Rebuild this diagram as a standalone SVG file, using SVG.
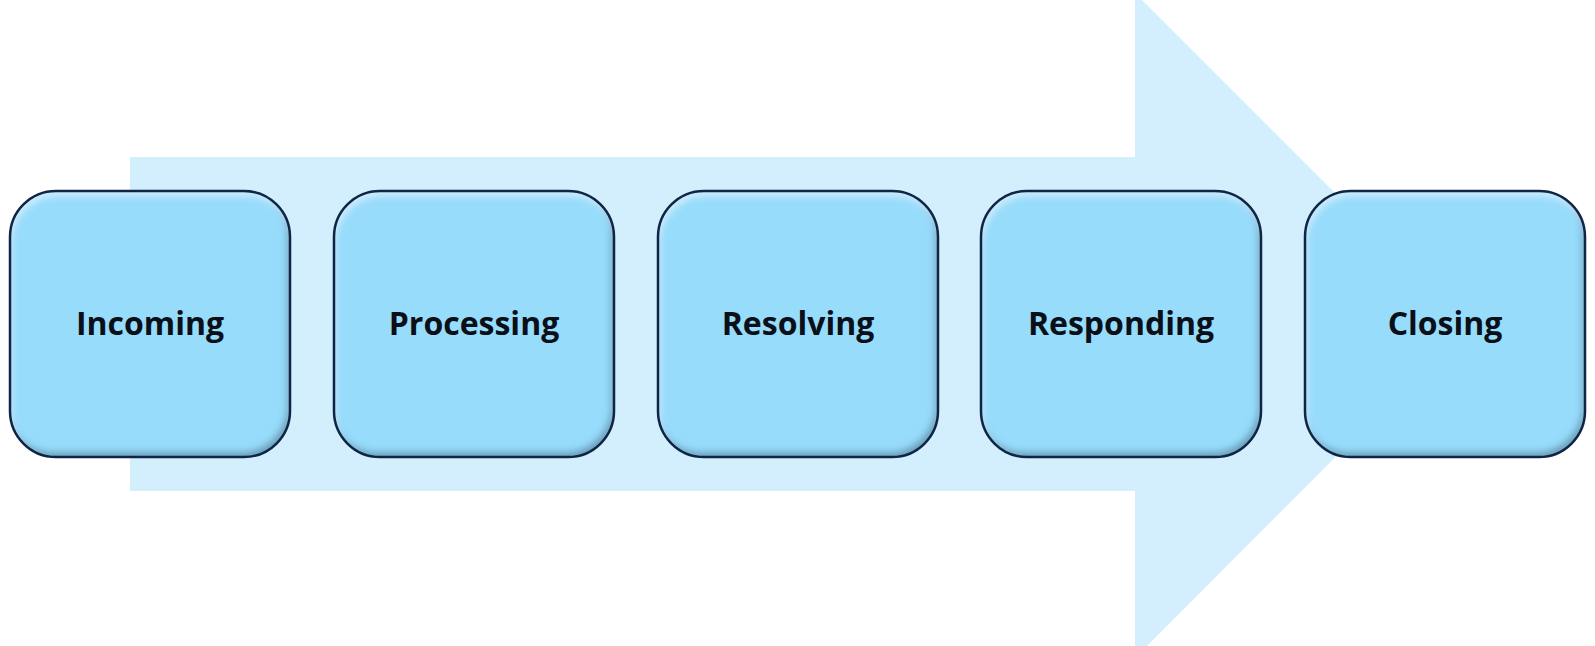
<svg xmlns="http://www.w3.org/2000/svg" width="1595" height="646" viewBox="0 0 1595 646">
  <defs>
    <filter id="bevel" x="-5%" y="-5%" width="110%" height="110%">
      <feGaussianBlur in="SourceAlpha" stdDeviation="3.5" result="blur"/>
      <feOffset in="blur" dx="-3" dy="-5" result="offDark"/>
      <feComposite in="SourceAlpha" in2="offDark" operator="out" result="darkEdge"/>
      <feFlood flood-color="#0a2a50" flood-opacity="0.55"/>
      <feComposite in2="darkEdge" operator="in" result="shadow"/>
      <feOffset in="blur" dx="2" dy="5" result="offLight"/>
      <feComposite in="SourceAlpha" in2="offLight" operator="out" result="lightEdge"/>
      <feFlood flood-color="#ffffff" flood-opacity="0.45"/>
      <feComposite in2="lightEdge" operator="in" result="hilite"/>
      <feMerge>
        <feMergeNode in="SourceGraphic"/>
        <feMergeNode in="shadow"/>
        <feMergeNode in="hilite"/>
      </feMerge>
    </filter>
  </defs>
  <style>
    .bg { fill: #d3eefc; }
    .box { fill: #97dcfb; filter: url(#bevel); }
    .edge { fill: none; stroke: #0e2545; stroke-width: 2.5; }
    .label { font-family: "Open Sans", "Noto Sans", "Liberation Sans", sans-serif; font-weight: 700; font-size: 32px; fill: #0a0f18; text-anchor: middle; }
  </style>
  <rect width="1595" height="646" fill="#ffffff"/>
  <g id="arrow">
    <polygon class="bg" points="130,157 1135,157 1135,-7 1467,325 1135,658 1135,491 130,491"/>
  </g>
  <g id="connectors"></g>
  <g id="node-incoming">
    <rect class="box" x="10" y="191" width="280" height="266" rx="46"/>
    <rect class="edge" x="10" y="191" width="280" height="266" rx="46"/>
    <text class="label" x="150" y="335">Incoming</text>
  </g>
  <g id="node-processing">
    <rect class="box" x="334" y="191" width="280" height="266" rx="46"/>
    <rect class="edge" x="334" y="191" width="280" height="266" rx="46"/>
    <text class="label" x="474" y="335">Processing</text>
  </g>
  <g id="node-resolving">
    <rect class="box" x="658" y="191" width="280" height="266" rx="46"/>
    <rect class="edge" x="658" y="191" width="280" height="266" rx="46"/>
    <text class="label" x="798" y="335">Resolving</text>
  </g>
  <g id="node-responding">
    <rect class="box" x="981" y="191" width="280" height="266" rx="46"/>
    <rect class="edge" x="981" y="191" width="280" height="266" rx="46"/>
    <text class="label" x="1121" y="335">Responding</text>
  </g>
  <g id="node-closing">
    <rect class="box" x="1305" y="191" width="280" height="266" rx="46"/>
    <rect class="edge" x="1305" y="191" width="280" height="266" rx="46"/>
    <text class="label" x="1445" y="335">Closing</text>
  </g>
</svg>
